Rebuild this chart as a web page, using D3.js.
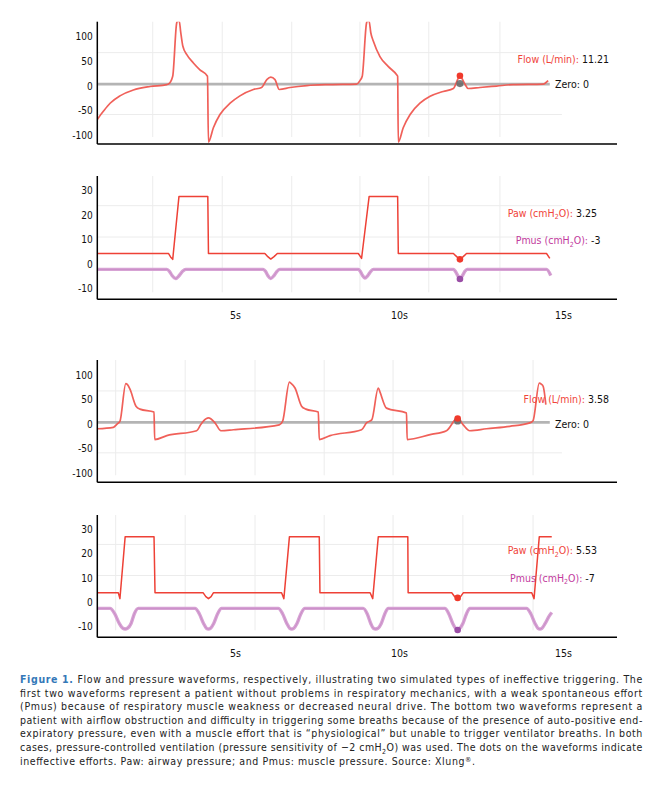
<!DOCTYPE html>
<html>
<head>
<meta charset="utf-8">
<script src="https://cdn.jsdelivr.net/npm/d3@7"></script>
<style>
  body { margin: 0; background: #fff; }
  svg text { font-family: 'DejaVu Sans Condensed', 'DejaVu Sans', sans-serif; }
</style>
</head>
<body>
<div id="chart"></div>
<script>
// ---------- data ----------
const timeTicks = [5, 10, 15];
const flowTicks = [100, 50, 0, -50, -100];
const pressTicks = [30, 20, 10, 0, -10];

// faint background grid (it scrolls with the trace, so it is not on the ticks)
const gridTimesA = [2.49, 4.61, 6.73, 8.81, 10.91, 13.08];
const gridTimesB = [1.36, 3.48, 5.61, 7.72, 9.82, 11.95, 14.09];
const flowGridVals = [64, -62];
const pressGridVals = [23, 10.2];

// case 1: weak effort, flow (L/min) vs time (s)
const flowA = [
  [0.80,-72],[0.99,-55],[1.19,-39],[1.49,-24],[1.90,-12],[2.41,-5],[2.92,-1],[2.97,0],
  [3.10,16],[3.22,124],[3.25,128],[3.30,128],[3.34,108],[3.41,77],[3.53,60],[3.73,43],
  [3.93,29],[4.16,16],[4.19,-118],[4.34,-89],[4.54,-62],[4.85,-39],[5.15,-24],[5.56,-11],
  [5.81,-7],[5.97,9],[6.09,14],[6.22,9],[6.35,-11],[6.68,-7],[7.19,-3],[7.90,-1],
  [8.71,0],[8.81,7],[8.88,16],[9.01,124],[9.04,128],[9.09,128],[9.14,105],[9.22,87],
  [9.42,56],[9.67,36],[9.93,19],[9.96,16],[9.98,-118],[10.13,-89],[10.34,-62],[10.64,-39],
  [10.95,-25],[11.35,-15],[11.66,-9],[11.86,16],[12.01,0],[12.11,-9],[12.47,-7],[12.98,-4],
  [13.48,-1],[14.40,0],[14.55,7]
];
// case 1: airway pressure (cmH2O)
const pawA = [
  [0.80,3.5],[2.97,3.5],[3.04,2.0],[3.10,1.1],[3.29,26.7],[4.17,26.7],[4.19,3.5],
  [5.91,3.5],[6.00,2.2],[6.09,1.2],[6.19,2.2],[6.29,3.5],[8.76,3.5],[8.86,1.5],
  [9.09,26.7],[9.96,26.7],[9.98,3.5],[11.66,3.5],[11.76,2.2],[11.86,1.1],[11.96,2.2],
  [12.06,3.5],[14.50,3.5],[14.60,1.5]
];
// case 1: muscle pressure (cmH2O)
const pmusA = [
  [0.80,-3],[2.92,-3],[3.00,-3.8],[3.08,-5.5],[3.19,-6.7],[3.30,-5.5],[3.40,-3.8],[3.50,-3],
  [5.86,-3],[5.93,-3.8],[6.00,-5.5],[6.09,-6.7],[6.19,-5.5],[6.28,-3.8],[6.37,-3],
  [8.76,-3],[8.82,-3.8],[8.89,-5.5],[8.96,-6.5],[9.05,-5.5],[9.14,-3.8],[9.22,-3],
  [11.66,-3],[11.72,-3.8],[11.79,-5.5],[11.86,-6.7],[11.94,-5.5],[12.01,-3.8],[12.08,-3],
  [14.50,-3],[14.63,-5.5]
];

// case 2: airflow obstruction / auto-PEEP
const flowB = [
  [0.80,-13],[1.29,-10],[1.41,-3],[1.49,2],[1.67,79],[1.72,77],[1.80,67],[1.98,33],
  [2.10,27],[2.53,21],[2.55,-35],[2.92,-27],[3.83,-17],[3.95,-5],[4.03,2],[4.19,9],
  [4.39,-1],[4.57,-17],[4.95,-15],[6.35,-5],[6.45,2],[6.66,82],[6.70,80],[6.83,70],
  [7.03,33],[7.16,27],[7.54,21],[7.57,-35],[7.90,-27],[8.86,-15],[9.01,-1],[9.17,5],
  [9.37,70],[9.42,62],[9.62,29],[10.23,19],[10.25,-35],[10.95,-25],[11.45,-17],[11.79,9],
  [11.96,-5],[12.16,-17],[12.67,-13],[13.38,-8],[13.99,-1],[14.09,3.5],[14.28,80],
  [14.34,78],[14.40,73],[14.48,36]
];
const pawB = [
  [0.80,3.1],[1.44,3.1],[1.49,0.7],[1.65,26.2],[2.53,26.2],[2.56,3.1],[4.03,3.1],
  [4.11,1.5],[4.19,0.7],[4.27,1.5],[4.34,3.1],[6.42,3.1],[6.49,0.7],[6.66,26.2],
  [7.57,26.2],[7.59,3.1],[9.12,3.1],[9.20,0.7],[9.37,26.2],[10.27,26.2],[10.28,3.1],
  [11.61,3.1],[11.70,1.5],[11.79,0.7],[11.88,1.5],[11.96,3.1],[14.05,3.1],[14.12,0.7],
  [14.28,26.2],[14.66,26.2]
];
const pmusB = [
  [0.80,-3.3],
  [1.19,-3.3],[1.33,-5.5],[1.47,-9.5],[1.58,-11.5],[1.65,-11.8],[1.72,-11.5],[1.83,-9.5],[1.93,-5.5],[2.05,-3.3],
  [3.78,-3.3],[3.91,-5.5],[4.04,-9.5],[4.13,-11.5],[4.19,-11.8],[4.25,-11.5],[4.35,-9.5],[4.47,-5.5],[4.59,-3.3],
  [6.32,-3.3],[6.45,-5.5],[6.58,-9.5],[6.67,-11.5],[6.73,-11.8],[6.79,-11.5],[6.89,-9.5],[7.01,-5.5],[7.13,-3.3],
  [8.91,-3.3],[9.03,-5.5],[9.14,-9.5],[9.22,-11.5],[9.29,-11.8],[9.36,-11.5],[9.46,-9.5],[9.57,-5.5],[9.67,-3.3],
  [11.40,-3.3],[11.52,-5.5],[11.64,-9.5],[11.73,-11.5],[11.79,-11.8],[11.85,-11.5],[11.95,-9.5],[12.06,-5.5],[12.16,-3.3],
  [13.89,-3.3],[14.02,-5.5],[14.15,-9.5],[14.24,-11.5],[14.30,-11.8],[14.36,-11.5],[14.46,-9.5],[14.58,-6.5],[14.66,-5]
];

// ineffective-effort markers: [time, value, kind]
const flowDotsA = [[11.86, 1, "zero"], [11.86, 17, "flow"]];
const pressDotsA = [[11.86, 1.1, "paw"], [11.86, -6.9, "pmus"]];
const flowDotsB = [[11.79, 3, "zero"], [11.79, 8, "flow"]];
const pressDotsB = [[11.79, 1.0, "paw"], [11.79, -12.2, "pmus"]];

// current-value readouts
const flowReadouts = ["11.21", "3.58"];
const pawReadouts = ["3.25", "5.53"];
const pmusReadouts = ["-3", "-7"];
const zeroEnd = 14.6;

const captionLines = [
  "Flow and pressure waveforms, respectively, illustrating two simulated types of ineffective triggering. The",
  "first two waveforms represent a patient without problems in respiratory mechanics, with a weak spontaneous effort",
  "(Pmus) because of respiratory muscle weakness or decreased neural drive. The bottom two waveforms represent a",
  "patient with airflow obstruction and difficulty in triggering some breaths because of the presence of auto-positive end-",
  "expiratory pressure, even with a muscle effort that is \u201cphysiological\u201d but unable to trigger ventilator breaths. In both",
  "cases, pressure-controlled ventilation (pressure sensitivity of \u22122 cmH_2O) was used. The dots on the waveforms indicate",
  "ineffective efforts. Paw: airway pressure; and Pmus: muscle pressure. Source: Xlung^\u00ae."
];

// ---------- drawing ----------
const W = 658, H = 786;
const colors = {
  flow: "#ef5750", paw: "#ee4136", pmus: "#d7a3d4", pmusCore: "#b46ab2",
  zero: "#b4b4b4", dotFlow: "#f03a2c", dotZero: "#666", dotPaw: "#f03a2c", dotPmus: "#9a4ea6",
  grid: "#ececec", pmusText: "#c23a9e", flowText: "#f0443a"
};

const svg = d3.select("#chart").append("svg").attr("width", W).attr("height", H);

const x = d3.scaleLinear().domain([0.8, 16.65]).range([97.3, 617]);

const panels = [
  {id: "fa", top: 21.7, bottom: 144, domain: [-122, 127], ticks: flowTicks, gridT: gridTimesA, gridV: flowGridVals,
   flow: flowA, dots: flowDotsA, readout: flowReadouts[0], labelY: [63.3, 88.3]},
  {id: "pa", top: 176, bottom: 299.3, domain: [-15.2, 35.1], ticks: pressTicks, gridT: gridTimesA, gridV: pressGridVals,
   paw: pawA, pmus: pmusA, dots: pressDotsA, readouts: [pawReadouts[0], pmusReadouts[0]], labelY: [216.7, 244], pmusX: 515.7},
  {id: "fb", top: 360, bottom: 482.3, domain: [-122, 127], ticks: flowTicks, gridT: gridTimesB, gridV: flowGridVals,
   flow: flowB, dots: flowDotsB, readout: flowReadouts[1], labelY: [402.7, 427.7]},
  {id: "pb", top: 515, bottom: 637.3, domain: [-15.2, 35.1], ticks: pressTicks, gridT: gridTimesB, gridV: pressGridVals,
   paw: pawB, pmus: pmusB, dots: pressDotsB, readouts: [pawReadouts[1], pmusReadouts[1]], labelY: [554, 581.7], pmusX: 510}
];

function subText(sel, str, subSize) {
  // "_2" -> subscript 2, "^®" -> superscript ®
  const parts = str.split(/([_^])/);
  sel.append("tspan").text(parts[0]);
  for (let i = 1; i < parts.length; i += 2) {
    const shift = parts[i] === "_" ? 2.5 : -3;
    sel.append("tspan").attr("dy", shift).attr("font-size", subSize).text(parts[i + 1][0]);
    sel.append("tspan").attr("dy", -shift).text(parts[i + 1].slice(1));
  }
}

panels.forEach(p => {
  const y = d3.scaleLinear().domain(p.domain).range([p.bottom, p.top]);
  const g = svg.append("g");
  const left = x.range()[0], right = x.range()[1];

  g.append("clipPath").attr("id", "clip-" + p.id)
    .append("rect").attr("x", left).attr("y", p.top).attr("width", right - left).attr("height", p.bottom - p.top);

  // grid
  g.selectAll(".vg").data(p.gridT).enter().append("line")
    .attr("x1", d => x(d)).attr("x2", d => x(d))
    .attr("y1", p.top).attr("y2", p.bottom - 7)
    .attr("stroke", colors.grid).attr("stroke-width", 1);
  g.selectAll(".hg").data(p.gridV).enter().append("line")
    .attr("x1", left).attr("x2", x(14.97))
    .attr("y1", d => y(d)).attr("y2", d => y(d))
    .attr("stroke", colors.grid).attr("stroke-width", 1);

  // y axis labels (plain hyphen for negatives, like the original)
  const yAxis = d3.axisLeft(y).tickValues(p.ticks).tickSize(0).tickPadding(4.6).tickFormat(d => String(d));
  const ya = g.append("g").attr("transform", `translate(${left},0)`).call(yAxis);
  ya.select(".domain").remove();
  ya.selectAll("text").attr("font-size", 10).attr("fill", "#111")
    .attr("font-family", "'DejaVu Sans Condensed','DejaVu Sans',sans-serif")
    .attr("transform", "translate(0,1.8)");

  // x labels only under pressure panels
  if (p.paw) {
    const xAxis = d3.axisBottom(x).tickValues(timeTicks).tickSize(0).tickPadding(12.5).tickFormat(d => d + "s");
    const xa = g.append("g").attr("transform", `translate(0,${p.bottom})`).call(xAxis);
    xa.select(".domain").remove();
    xa.selectAll("text").attr("font-size", 10.5).attr("fill", "#111")
      .attr("font-family", "'DejaVu Sans Condensed','DejaVu Sans',sans-serif");
  }

  const plot = g.append("g").attr("clip-path", `url(#clip-${p.id})`);
  const line = d3.line().x(d => x(d[0])).y(d => y(d[1]));

  if (p.flow) {
    plot.append("path").datum([[0.8, 0], [zeroEnd, 0]])
      .attr("d", line).attr("fill", "none").attr("stroke", colors.zero).attr("stroke-width", 2.6);
    plot.append("path").datum(p.flow)
      .attr("d", line.curve(d3.curveMonotoneX))
      .attr("fill", "none").attr("stroke", colors.flow).attr("stroke-width", 1.7)
      .attr("stroke-linejoin", "round").attr("opacity", 0.95);
    line.curve(d3.curveLinear);
  } else {
    plot.append("path").datum(p.pmus)
      .attr("d", line.curve(d3.curveMonotoneX))
      .attr("fill", "none").attr("stroke", colors.pmus).attr("stroke-width", 3.4);
    plot.append("path").datum(p.pmus)
      .attr("d", line)
      .attr("fill", "none").attr("stroke", colors.pmusCore).attr("stroke-width", 0.8).attr("opacity", 0.45);
    line.curve(d3.curveLinear);
    plot.append("path").datum(p.paw)
      .attr("d", line)
      .attr("fill", "none").attr("stroke", colors.paw).attr("stroke-width", 1.5)
      .attr("stroke-linejoin", "round");
  }

  // markers
  const dotColor = {zero: colors.dotZero, flow: colors.dotFlow, paw: colors.dotPaw, pmus: colors.dotPmus};
  plot.selectAll(".dot").data(p.dots).enter().append("circle")
    .attr("cx", d => x(d[0])).attr("cy", d => y(d[1]))
    .attr("r", d => d[2] === "zero" ? 3.6 : 3.3)
    .attr("fill", d => dotColor[d[2]]).attr("opacity", d => d[2] === "zero" ? 0.85 : 1);

  // axis lines
  g.append("line").attr("x1", left).attr("x2", left).attr("y1", p.top).attr("y2", p.bottom)
    .attr("stroke", "#000").attr("stroke-width", 1.5);
  g.append("line").attr("x1", left).attr("x2", right).attr("y1", p.bottom).attr("y2", p.bottom)
    .attr("stroke", "#000").attr("stroke-width", 1.5);

  // readouts
  if (p.flow) {
    const t1 = g.append("text").attr("x", 609).attr("y", p.labelY[0]).attr("text-anchor", "end").attr("font-size", 10.5);
    t1.append("tspan").attr("fill", colors.flowText).text("Flow (L/min): ");
    t1.append("tspan").attr("fill", "#111").text(p.readout);
    const t2 = g.append("text").attr("x", 555).attr("y", p.labelY[1]).attr("font-size", 10.5).attr("fill", "#111");
    t2.text("Zero: 0");
  } else {
    const t1 = g.append("text").attr("x", 507.7).attr("y", p.labelY[0]).attr("font-size", 10.5);
    const n1 = t1.append("tspan").attr("fill", colors.flowText);
    subText(n1, "Paw (cmH_2O): ", 7);
    t1.append("tspan").attr("fill", "#111").text(p.readouts[0]);
    const t2 = g.append("text").attr("x", p.pmusX).attr("y", p.labelY[1]).attr("font-size", 10.5);
    const n2 = t2.append("tspan").attr("fill", colors.pmusText);
    subText(n2, "Pmus (cmH_2O): ", 7);
    t2.append("tspan").attr("fill", "#111").text(p.readouts[1]);
  }
});

// caption
const cap = svg.append("g");
const capTop = 683, capGap = 13.6, capLeft = 20, capWidth = 622.3;
captionLines.forEach((ln, i) => {
  const t = cap.append("text").attr("x", capLeft).attr("y", capTop + i * capGap)
    .attr("font-size", 10.5).attr("fill", "#222")
    .attr("textLength", i < captionLines.length - 1 ? capWidth : 455)
    .attr("lengthAdjust", "spacing");
  if (i === 0) {
    t.append("tspan").attr("font-weight", "bold").attr("fill", "#3478b8").text("Figure 1. ");
  }
  subText(t, ln, 7);
});
</script>
</body>
</html>
